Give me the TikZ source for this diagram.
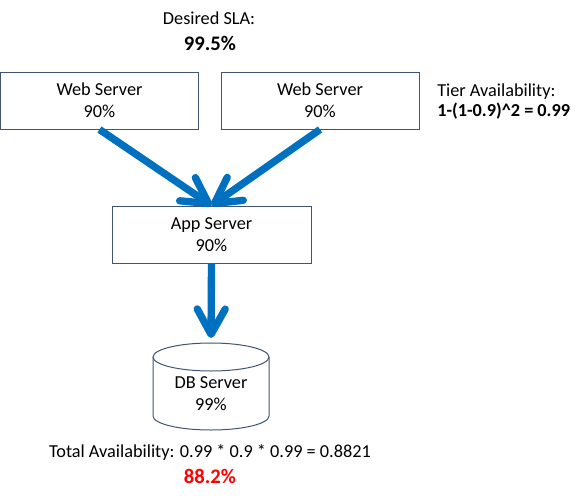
\documentclass[tikz,border=0pt]{standalone}
\usepackage{fontspec}
\setmainfont{Carlito}
\usetikzlibrary{arrows.meta}
\definecolor{boxline}{RGB}{65,85,115}
\definecolor{arrowblue}{RGB}{0,112,192}
\definecolor{slared}{RGB}{255,0,0}
\begin{document}
\begin{tikzpicture}[x=0.75pt,y=-0.75pt,
  every node/.style={font=\fontsize{13.7pt}{16.5pt}\selectfont, inner sep=0pt},
  server/.style={draw=boxline, line width=0.75pt, fill=white, minimum width=148.5pt, minimum height=42.75pt, align=center},
  flow/.style={draw=arrowblue, line width=5.5pt, -{Straight Barb[length=19pt, width=21pt, round]}},
  big/.style={font=\fontsize{15.5pt}{18pt}\selectfont\bfseries}]
\useasboundingbox (0,0) rectangle (587,504);

% titles
\node (sla) at (209,18) {Desired SLA:};
\node[big] (slaval) at (210,43) {99.5\%};

% web tier
\node[server] (web1) at (99.5,100.5) {Web Server\\90\%};
\node[server] (web2) at (320,100.5) {Web Server\\90\%};
\node[align=left, anchor=west, font=\fontsize{13.7pt}{15pt}\selectfont] (tier) at (437,102) {Tier Availability:\\\textbf{1-(1-0.9)\^{}2 = 0.99}};

% app tier
\node[server, minimum width=149.25pt] (app) at (211.5,234.5) {App Server\\90\%};

% db cylinder
\coordinate (dbtop) at (211,343);
\fill[white] (153,357) -- (153,416) arc[start angle=180, end angle=360, x radius=43.5pt, y radius=10.5pt] -- (269,357) -- cycle;
\draw[boxline, line width=0.75pt] (153,357) -- (153,416) arc[start angle=180, end angle=360, x radius=43.5pt, y radius=10.5pt] -- (269,357);
\draw[boxline, line width=0.75pt, fill=white] (211,357) ellipse[x radius=43.5pt, y radius=10.5pt];
\node[align=center] (db) at (211,394) {DB Server\\99\%};

% connectors
\draw[flow] (web1.south) -- (app.north);
\draw[flow] (web2.south) -- (app.north);
\draw[flow, shorten >=3.75pt] (app.south) -- (dbtop);

% totals
\node (total) at (210,452) {Total Availability: 0.99 * 0.9 * 0.99 = 0.8821};
\node[big, text=slared] (totalval) at (210,476) {88.2\%};
\end{tikzpicture}
\end{document}
